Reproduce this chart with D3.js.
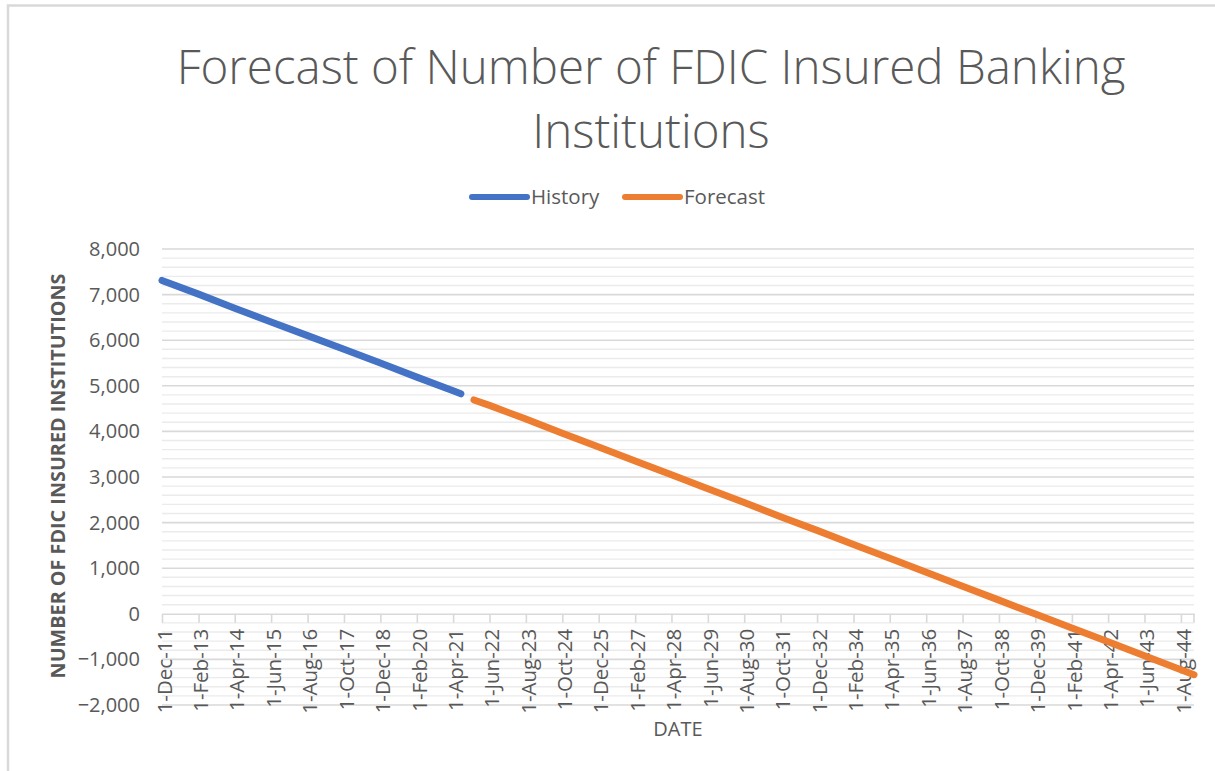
<!DOCTYPE html>
<html>
<head>
<meta charset="utf-8">
<script src="https://cdn.jsdelivr.net/npm/d3@7"></script>
<style>
  html, body { margin: 0; padding: 0; background: #fff; }
  svg { display: block; }
  text { font-family: "Open Sans", "Liberation Sans", sans-serif; }
</style>
</head>
<body>
<svg id="chart" width="1215" height="771"></svg>
<script>
// ---------------- data ----------------
const titleLines = ["Forecast of Number of FDIC Insured Banking", "Institutions"];
const seriesNames = ["History", "Forecast"];
const seriesColors = ["#4472C4", "#ED7D31"];
const yAxisTitle = "NUMBER OF FDIC INSURED INSTITUTIONS";
const xAxisTitle = "DATE";

const xTickLabels = ["1-Dec-11","1-Feb-13","1-Apr-14","1-Jun-15","1-Aug-16","1-Oct-17","1-Dec-18",
  "1-Feb-20","1-Apr-21","1-Jun-22","1-Aug-23","1-Oct-24","1-Dec-25","1-Feb-27","1-Apr-28","1-Jun-29",
  "1-Aug-30","1-Oct-31","1-Dec-32","1-Feb-34","1-Apr-35","1-Jun-36","1-Aug-37","1-Oct-38","1-Dec-39",
  "1-Feb-41","1-Apr-42","1-Jun-43","1-Aug-44"];
const xDomain = ["1-Dec-11", "1-Jan-45"];

const yMajorTicks = [-2000, -1000, 0, 1000, 2000, 3000, 4000, 5000, 6000, 7000, 8000];
const yMinorStep = 200;

const historyDates = ["1-Dec-11","1-Feb-13","1-Apr-14","1-Jun-15","1-Aug-16","1-Oct-17","1-Dec-18",
  "1-Feb-20","1-Apr-21","1-Jul-21"];
const historyValues = [7310, 7010, 6700, 6400, 6100, 5800, 5500, 5190, 4890, 4825];

const forecastDates = ["1-Dec-21","1-Jun-22","1-Aug-23","1-Oct-24","1-Dec-25","1-Feb-27","1-Apr-28",
  "1-Jun-29","1-Aug-30","1-Oct-31","1-Dec-32","1-Feb-34","1-Apr-35","1-Jun-36","1-Aug-37","1-Oct-38",
  "1-Dec-39","1-Feb-41","1-Apr-42","1-Jun-43","1-Aug-44","1-Jan-45"];
const forecastValues = [4690, 4570, 4270, 3960, 3660, 3350, 3050, 2740, 2440, 2130, 1830, 1520,
  1220, 910, 605, 300, -5, -310, -615, -920, -1225, -1335];

// ---------------- drawing ----------------
const parse = d3.timeParse("%-d-%b-%y");
const svg = d3.select("#chart");
const textColor = "#595959";

// chart border
svg.append("rect").attr("x", 8).attr("y", 5.5).attr("width", 1230).attr("height", 800)
  .attr("fill", "#fff").attr("stroke", "#d9d9d9").attr("stroke-width", 2.5);

const plot = { left: 162, right: 1194, top: 249, bottom: 705 };

const x = d3.scaleTime().domain(xDomain.map(parse)).range([plot.left, plot.right]);
const y = d3.scaleLinear().domain([d3.min(yMajorTicks), d3.max(yMajorTicks)]).range([plot.bottom, plot.top]);

// minor gridlines
const minorTicks = d3.range(d3.min(yMajorTicks), d3.max(yMajorTicks) + 1, yMinorStep)
  .filter(v => !yMajorTicks.includes(v));
svg.append("g").selectAll("line").data(minorTicks).join("line")
  .attr("x1", plot.left).attr("x2", plot.right)
  .attr("y1", d => y(d)).attr("y2", d => y(d))
  .attr("stroke", "#ebebeb").attr("stroke-width", 1.4);

// major gridlines
svg.append("g").selectAll("line").data(yMajorTicks.filter(v => v !== 0)).join("line")
  .attr("x1", plot.left).attr("x2", plot.right)
  .attr("y1", d => y(d)).attr("y2", d => y(d))
  .attr("stroke", "#d9d9d9").attr("stroke-width", 1.6);

// y axis labels
const yAxis = d3.axisLeft(y).tickValues(yMajorTicks).tickFormat(d3.format(",")).tickSize(0).tickPadding(22);
const gy = svg.append("g").attr("transform", `translate(${plot.left},0)`).call(yAxis);
gy.select(".domain").remove();
gy.selectAll("text").attr("fill", textColor).style("font-size", "20px")
  .style("font-family", '"Open Sans", sans-serif');

// x axis at y = 0
const xTickDates = xTickLabels.map(parse);
const xAxis = d3.axisBottom(x).tickValues(xTickDates).tickFormat(d3.timeFormat("%-d-%b-%y"))
  .tickSize(9).tickSizeOuter(0);
const gx = svg.append("g").attr("transform", `translate(0,${y(0)})`).call(xAxis);
gx.select(".domain").attr("stroke", "#d9d9d9").attr("stroke-width", 1.6);
gx.selectAll(".tick line").attr("stroke", "#d9d9d9").attr("stroke-width", 1.6);
gx.selectAll(".tick text")
  .attr("fill", textColor).style("font-size", "20.5px")
  .style("font-family", '"Open Sans", sans-serif')
  .attr("text-anchor", "end")
  .attr("dy", "0.35em")
  .attr("transform", "translate(2,15) rotate(-90)")
  .attr("x", 0).attr("y", 0);
// end tick
gx.append("line").attr("x1", plot.right).attr("x2", plot.right).attr("y1", 0).attr("y2", 9)
  .attr("stroke", "#d9d9d9").attr("stroke-width", 1.6);

// lines
const line = d3.line().x(d => x(d.date)).y(d => y(d.value));
const series = [
  { name: seriesNames[0], color: seriesColors[0], data: historyDates.map((d, i) => ({ date: parse(d), value: historyValues[i] })) },
  { name: seriesNames[1], color: seriesColors[1], data: forecastDates.map((d, i) => ({ date: parse(d), value: forecastValues[i] })) }
];
svg.append("g").selectAll("path").data(series).join("path")
  .attr("d", d => line(d.data))
  .attr("fill", "none").attr("stroke", d => d.color)
  .attr("stroke-width", 7).attr("stroke-linecap", "round").attr("stroke-linejoin", "round");

// title
svg.append("g").selectAll("text").data(titleLines).join("text")
  .attr("x", 651).attr("y", (d, i) => 84 + i * 64)
  .attr("text-anchor", "middle").attr("fill", textColor)
  .style("font-size", "47.5px").style("font-weight", 300)
  .text(d => d);

// legend
const legend = svg.append("g");
const legendItems = [
  { x: 472, textX: 531 },
  { x: 625, textX: 684 }
];
series.forEach((s, i) => {
  const it = legendItems[i];
  legend.append("line").attr("x1", it.x).attr("x2", it.x + 55).attr("y1", 197).attr("y2", 197)
    .attr("stroke", s.color).attr("stroke-width", 6).attr("stroke-linecap", "round");
  legend.append("text").attr("x", it.textX).attr("y", 197).attr("dy", "0.35em")
    .attr("fill", textColor).style("font-size", "20.5px").text(s.name);
});

// axis titles
svg.append("text").attr("transform", "translate(58,476) rotate(-90)")
  .attr("text-anchor", "middle").attr("dy", "0.35em").attr("fill", textColor)
  .style("font-size", "19.8px").style("font-weight", 700).text(yAxisTitle);
svg.append("text").attr("x", 678).attr("y", 729).attr("dy", "0.35em")
  .attr("text-anchor", "middle").attr("fill", textColor)
  .style("font-size", "20px").text(xAxisTitle);
</script>
</body>
</html>
